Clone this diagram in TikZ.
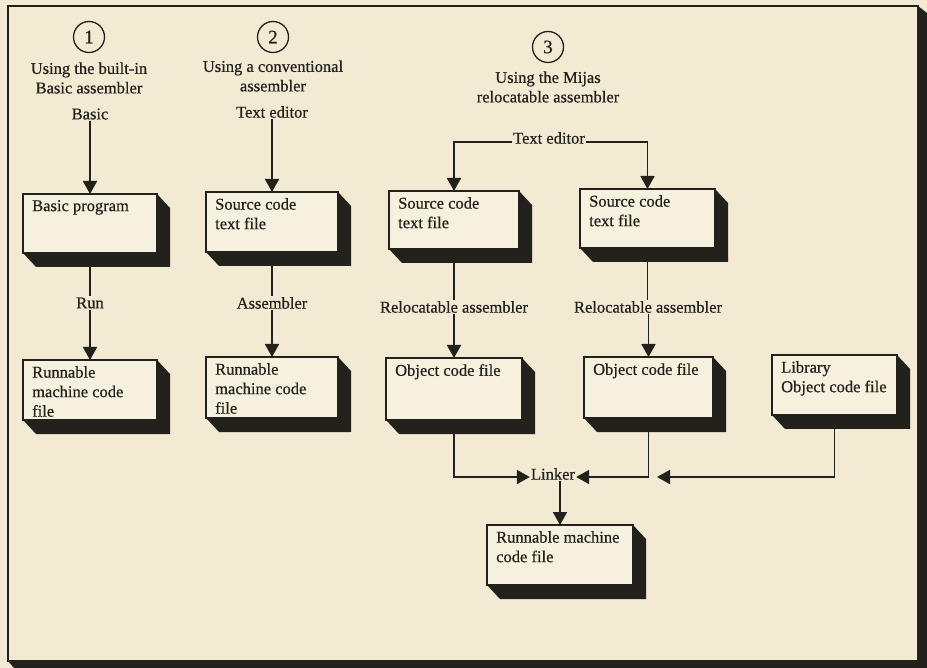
\documentclass[tikz,border=0pt]{standalone}
\usepackage{fontspec}
\setmainfont{Liberation Serif}[FakeBold=0.6]
\usetikzlibrary{arrows.meta,calc}
\definecolor{paper}{HTML}{F2EAD3}
\definecolor{boxfill}{HTML}{F6F0DE}
\definecolor{ink}{HTML}{23211C}
\tikzset{
  boxst/.style={draw=ink, line width=1.6pt, fill=boxfill, rectangle, inner sep=0pt, outer sep=0pt},
  boxtxt/.style={anchor=north west, align=left, inner sep=0pt, font=\fontsize{16.5}{19.5}\selectfont, text=ink},
  lbl/.style={inner sep=1pt, font=\fontsize{16.5}{19.5}\selectfont, text=ink, align=center},
  ttl/.style={inner sep=1pt, font=\fontsize{16.5}{19.5}\selectfont, text=ink, align=center},
  conn/.style={draw=ink, line width=1.8pt},
  arr/.style={conn, -{Triangle[width=14pt,length=13pt]}},
  numc/.style={circle, draw=ink, line width=1.3pt, minimum size=31pt, inner sep=0pt, font=\fontsize{19}{20}\selectfont, text=ink},
}
\newcommand\mybox[6]{%
  \node[boxst, anchor=north west, minimum width={#4-#2}, minimum height={#5-#3}] (#1) at (#2,#3) {};
  \fill[ink] (#1.north east) -- ++(13,14) -- ++(0,#5-#3) -- ++(#2-#4,0) -- (#1.south west) -- (#1.south east) -- cycle;
  \node[boxtxt] (#1t) at ([xshift=9pt,yshift=-6pt]#1.north west) {#6};
}
\begin{document}
\begin{tikzpicture}[x=1pt,y=-1pt]
\useasboundingbox (0,0) rectangle (927,668);
\fill[paper] (0,0) rectangle (927,668);
% frame
\fill[ink] (918,6) -- (927,13) -- (927,668) -- (14,668) -- (8,661) -- (918,661) -- cycle;
\draw[ink, line width=2pt] (8,6) rectangle (918,661);

% headings
\node[numc] (n1) at (89,37) {1};
\node[numc] (n2) at (273,37) {2};
\node[numc] (n3) at (548,47) {3};
\node[ttl] (t1) at (89,78) {Using the built-in\\Basic assembler};
\node[ttl] (t2) at (273,76) {Using a conventional\\assembler};
\node[ttl] (t3) at (548,87) {Using the Mijas\\relocatable assembler};

% boxes
\mybox{b1}{23}{194}{157}{253}{Basic program}
\mybox{b2}{206}{192}{338}{252}{Source code\\text file}
\mybox{b3}{389}{191}{519}{249}{Source code\\text file}
\mybox{b4}{580}{189}{715}{248}{Source code\\text file}
\mybox{r1}{23}{360}{157}{420}{Runnable\\machine code\\file}
\mybox{r2}{206}{357}{338}{418}{Runnable\\machine code\\file}
\mybox{o1}{386}{358}{522}{420}{Object code file}
\mybox{o2}{584}{357}{713}{418}{Object code file}
\mybox{lib}{772}{355}{897}{415}{Library\\Object code file}
\mybox{fin}{487}{525}{633}{585}{Runnable machine\\code file}

% column 1
\node[lbl] (basic) at (90,114) {Basic};
\draw[arr] (basic.south) -- (b1.north);
\node[lbl] (run) at (90,303) {Run};
\draw[conn] ([yshift=-14pt]b1.south) -- (run.north);
\draw[arr] (run.south) -- (r1.north);

% column 2
\node[lbl] (te2) at (272,112) {Text editor};
\draw[arr] (te2.south) -- (b2.north);
\node[lbl] (asm) at (272,303) {Assembler};
\draw[conn] ([yshift=-14pt]b2.south) -- (asm.north);
\draw[arr] (asm.south) -- (r2.north);

% column 3
\node[lbl] (te3) at (549,138) {Text editor};
\draw[arr] ([yshift=-4pt]te3.west) -| (b3.north);
\draw[arr] ([yshift=-4pt]te3.east) -| (b4.north);
\node[lbl] (ra1) at (454,307) {Relocatable assembler};
\node[lbl] (ra2) at (648,307) {Relocatable assembler};
\draw[conn] ([yshift=-14pt]b3.south) -- (ra1.north);
\draw[arr] (ra1.south) -- (o1.north);
\draw[conn] ([yshift=-14pt]b4.south) -- (ra2.north -| b4.south);
\draw[arr] (ra2.south -| o2.north) -- (o2.north);

% linker
\node[lbl] (linker) at (553,474) {Linker};
\coordinate (ltip) at (657,477);
\draw[arr] ([yshift=-14pt]o1.south) |- ([yshift=-3pt]linker.west);
\draw[arr] ([yshift=-14pt]o2.south) |- ([yshift=-3pt]linker.east);
\draw[arr] ([yshift=-14pt]lib.south) |- (ltip);
\draw[arr] (linker.south -| fin.north) -- (fin.north);
\end{tikzpicture}
\end{document}
